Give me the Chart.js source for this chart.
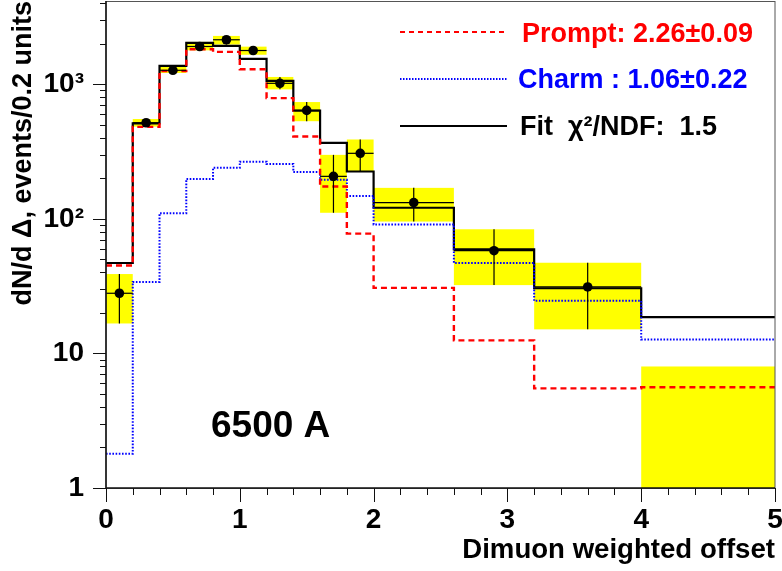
<!DOCTYPE html>
<html>
<head>
<meta charset="utf-8">
<script src="https://cdn.jsdelivr.net/npm/chart.js@4.4.0/dist/chart.umd.min.js"></script>
<style>
body { margin: 0; background: #fff; }
</style>
</head>
<body>
<canvas id="offsetchart" width="782" height="571"></canvas>
<script>
// bin edges of the histogram (last four bins are wider)
const binEdges = [0, 0.2, 0.4, 0.6, 0.8, 1.0, 1.2, 1.4, 1.6, 1.8, 2.0, 2.6, 3.2, 4.0, 5.0];
const fitValues = [47, 512, 1371, 2033, 1933, 1544, 1059, 637, 367, 225, 121, 59.4, 30.5, 18.6];
const promptValues = [45, 483, 1257, 1824, 1742, 1294, 790, 409, 174, 77.7, 30.7, 12.5, 5.5, 5.6];
const charmValues = [1.8, 34, 110, 198, 240, 266, 256, 223, 195, 148, 91, 47, 24.6, 12.7];

// measured points
const dataCenters = [0.1, 0.3, 0.5, 0.7, 0.9, 1.1, 1.3, 1.5, 1.7, 1.9, 2.3, 2.9, 3.6];
const dataValues = [28, 518, 1271, 1910, 2143, 1783, 1017, 640, 207, 307, 132, 58, 31.2];
// error band per bin (yellow boxes)
const errLow = [16.7, 485, 1215, 1789, 1975, 1658, 917, 532, 111, 227, 95.5, 32.2, 15.1, 1];
const errHigh = [38.9, 552, 1383, 2066, 2289, 1905, 1134, 738, 299, 389, 170, 83.7, 47.2, 8];

const yTickValues = [1, 10, 100, 1000];
const yTickLabels = ['1', '10', '10²', '10³'];

const legendLabels = ['Prompt: 2.26±0.09', 'Charm : 1.06±0.22', 'Fit  χ²/NDF:  1.5'];
const panelLabel = '6500 A';

const FONT = '"Liberation Sans", Arial, Helvetica, sans-serif';

function stepPoints(values) {
    let pts = [];
    for (let i = 0; i < values.length; i++) {
        pts.push({ x: binEdges[i], y: values[i] });
    }
    pts.push({ x: binEdges[binEdges.length - 1], y: values[values.length - 1] });
    return pts;
}

let pointData = [];
for (let i = 0; i < dataValues.length; i++) {
    pointData.push({ x: dataCenters[i], y: dataValues[i] });
}

const boxesPlugin = {
    id: 'boxes',
    beforeDatasetsDraw(chart) {
        const ctx = chart.ctx;
        const xs = chart.scales.x, ys = chart.scales.y;
        ctx.save();
        ctx.fillStyle = '#ffff00';
        for (let i = 0; i < errLow.length; i++) {
            let x1 = xs.getPixelForValue(binEdges[i]);
            let x2 = xs.getPixelForValue(binEdges[i + 1]);
            let y1 = ys.getPixelForValue(errHigh[i]);
            let y2 = ys.getPixelForValue(errLow[i]);
            ctx.fillRect(x1, y1, x2 - x1, y2 - y1);
        }
        ctx.restore();
    },
    afterDatasetsDraw(chart) {
        const ctx = chart.ctx;
        const xs = chart.scales.x, ys = chart.scales.y;
        ctx.save();
        ctx.strokeStyle = '#000';
        for (let i = 0; i < dataValues.length; i++) {
            let xc = xs.getPixelForValue(dataCenters[i]);
            let yc = ys.getPixelForValue(dataValues[i]);
            ctx.lineWidth = 1.2;
            ctx.beginPath();
            ctx.moveTo(xc, ys.getPixelForValue(errHigh[i]));
            ctx.lineTo(xc, ys.getPixelForValue(errLow[i]));
            ctx.stroke();
            ctx.lineWidth = 1.2;
            ctx.beginPath();
            ctx.moveTo(xs.getPixelForValue(binEdges[i]), yc);
            ctx.lineTo(xs.getPixelForValue(binEdges[i + 1]), yc);
            ctx.stroke();
        }
        ctx.restore();
    }
};

const framePlugin = {
    id: 'frame',
    afterDraw(chart) {
        const ctx = chart.ctx;
        const a = chart.chartArea;
        const xs = chart.scales.x, ys = chart.scales.y;
        ctx.save();
        // frame
        ctx.strokeStyle = '#555';
        ctx.lineWidth = 1;
        ctx.strokeRect(a.left, a.top + 0.5, a.right - a.left, a.bottom - a.top);
        ctx.strokeStyle = '#111';
        ctx.lineWidth = 1.5;
        ctx.beginPath();
        ctx.moveTo(a.left, a.top);
        ctx.lineTo(a.left, a.bottom);
        ctx.lineTo(a.right, a.bottom);
        ctx.stroke();
        // y ticks
        ctx.lineWidth = 1;
        for (let d = 1; d <= 1000; d *= 10) {
            for (let m = 1; m <= 9; m++) {
                let v = d * m;
                if (v > ys.max) break;
                let y = Math.round(ys.getPixelForValue(v)) + 0.5;
                let len = m === 1 ? 13 : 6;
                ctx.beginPath();
                ctx.moveTo(a.left - len, y);
                ctx.lineTo(a.left, y);
                ctx.stroke();
            }
        }
        // x ticks
        for (let k = 0; k <= 25; k++) {
            let x = Math.round(xs.getPixelForValue(k * 0.2)) + 0.5;
            let len = k % 5 === 0 ? 14 : 7;
            ctx.beginPath();
            ctx.moveTo(x, a.bottom);
            ctx.lineTo(x, a.bottom + len);
            ctx.stroke();
        }
        // legend
        const items = [
            { color: '#ff0000', dash: [5, 4], width: 1.8, lineY: 32, textX: 522, base: 42 },
            { color: '#0000ff', dash: [1.5, 1.5], width: 1.8, lineY: 79, textX: 518, base: 88 },
            { color: '#000000', dash: [], width: 2, lineY: 126, textX: 520, base: 135 }
        ];
        ctx.font = 'bold 27px ' + FONT;
        ctx.textAlign = 'left';
        ctx.textBaseline = 'alphabetic';
        items.forEach((it, i) => {
            ctx.strokeStyle = it.color;
            ctx.lineWidth = it.width;
            ctx.setLineDash(it.dash);
            ctx.beginPath();
            ctx.moveTo(400, it.lineY);
            ctx.lineTo(507, it.lineY);
            ctx.stroke();
            ctx.setLineDash([]);
            ctx.fillStyle = it.color;
            ctx.fillText(legendLabels[i], it.textX, it.base);
        });
        ctx.font = 'bold 37px ' + FONT;
        ctx.fillStyle = '#000';
        ctx.fillText(panelLabel, 211, 437);
        ctx.restore();
    }
};

function noMargins(scale) {
    scale.paddingTop = 0;
    scale.paddingBottom = 0;
    scale.paddingLeft = 0;
    scale.paddingRight = 0;
}

const config = {
    type: 'line',
    data: {
        datasets: [
            {
                label: 'Data',
                data: pointData,
                showLine: false,
                pointRadius: 4.8,
                pointBackgroundColor: '#000',
                pointBorderWidth: 0,
                order: 0
            },
            {
                label: 'Prompt',
                data: stepPoints(promptValues),
                stepped: true,
                borderColor: '#ff0000',
                borderWidth: 2.4,
                borderDash: [6, 4],
                pointRadius: 0,
                fill: false,
                order: 1
            },
            {
                label: 'Charm',
                data: stepPoints(charmValues),
                stepped: true,
                borderColor: '#0000ff',
                borderWidth: 2,
                borderDash: [1.6, 1.6],
                pointRadius: 0,
                fill: false,
                order: 2
            },
            {
                label: 'Fit',
                data: stepPoints(fitValues),
                stepped: true,
                borderColor: '#000',
                borderWidth: 2.2,
                pointRadius: 0,
                fill: false,
                order: 3
            }
        ]
    },
    options: {
        responsive: false,
        animation: false,
        devicePixelRatio: 1,
        layout: { autoPadding: false, padding: { left: 0, right: 7, top: 1, bottom: 0 } },
        plugins: { legend: { display: false }, tooltip: { enabled: false } },
        scales: {
            x: {
                type: 'linear',
                min: 0,
                max: 5,
                grid: { display: false, drawTicks: false },
                border: { display: false },
                ticks: {
                    stepSize: 1,
                    autoSkip: false,
                    maxRotation: 0,
                    padding: 15,
                    color: '#000',
                    font: { family: FONT, size: 28, weight: 'bold' }
                },
                title: {
                    display: true,
                    text: 'Dimuon weighted offset',
                    align: 'end',
                    color: '#000',
                    padding: { top: 0, bottom: 4 },
                    font: { family: FONT, size: 27.6, weight: 'bold' }
                },
                afterFit(scale) { scale.height = 83; noMargins(scale); }
            },
            y: {
                type: 'logarithmic',
                min: 1,
                max: 4160,
                grid: { display: false, drawTicks: false },
                border: { display: false },
                afterBuildTicks(scale) {
                    scale.ticks = yTickValues.map(v => ({ value: v }));
                },
                ticks: {
                    padding: 22,
                    color: '#000',
                    font: { family: FONT, size: 28, weight: 'bold' },
                    callback: (value, index) => yTickLabels[index]
                },
                title: {
                    display: true,
                    text: 'dN/d Δ, events/0.2 units',
                    align: 'end',
                    color: '#000',
                    padding: { top: 7, bottom: 0 },
                    font: { family: FONT, size: 27, weight: 'bold' }
                },
                afterFit(scale) { scale.width = 106; noMargins(scale); }
            }
        }
    },
    plugins: [boxesPlugin, framePlugin]
};

const offsetChart = new Chart(document.getElementById('offsetchart'), config);
</script>
</body>
</html>
